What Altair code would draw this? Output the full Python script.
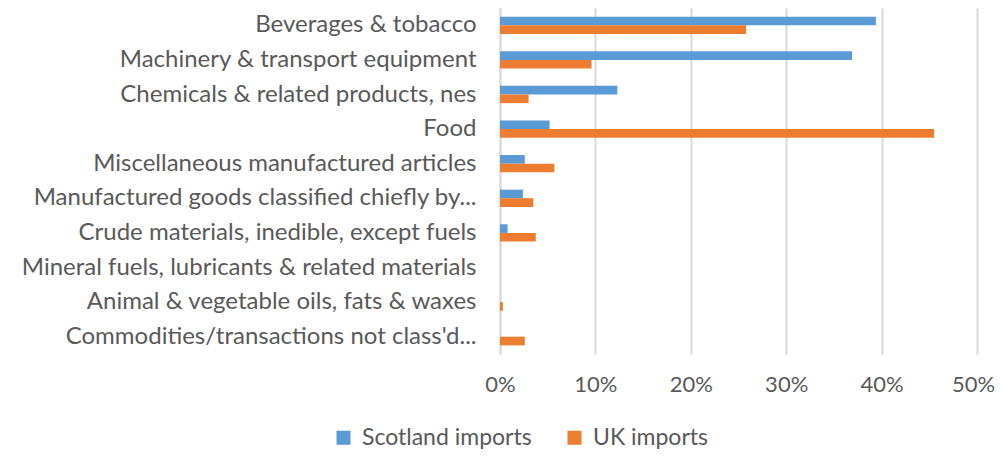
import altair as alt
import pandas as pd

categories = [
    "Beverages & tobacco",
    "Machinery & transport equipment",
    "Chemicals & related products, nes",
    "Food",
    "Miscellaneous manufactured articles",
    "Manufactured goods classified chiefly by...",
    "Crude materials, inedible, except fuels",
    "Mineral fuels, lubricants & related materials",
    "Animal & vegetable oils, fats & waxes",
    "Commodities/transactions not class'd...",
]
scotland = [0.394, 0.369, 0.123, 0.052, 0.026, 0.024, 0.008, 0.0, 0.0, 0.0]
uk = [0.258, 0.096, 0.030, 0.455, 0.057, 0.035, 0.0375, 0.0, 0.003, 0.026]
series = ["Scotland imports", "UK imports"]
colors = ["#5B9BD5", "#ED7D31"]
x_ticks = [0, 0.1, 0.2, 0.3, 0.4, 0.5]

rows = []
for c, s, u in zip(categories, scotland, uk):
    rows.append({"category": c, "series": series[0], "value": s})
    rows.append({"category": c, "series": series[1], "value": u})
df = pd.DataFrame(rows)

FONT = "Lato"
GRAY = "#595959"
FS = 24

chart = alt.Chart(df).mark_bar().encode(
    x=alt.X("value:Q",
            scale=alt.Scale(domain=[0, 0.5], nice=False, zero=True),
            axis=alt.Axis(values=x_ticks, format=".0%", title=None, grid=True,
                          gridColor="#d9d9d9", gridWidth=2, domain=False, ticks=False,
                          labelFont=FONT, labelFontSize=22, labelColor=GRAY,
                          labelPadding=20, labelFlush=False,
                          labelOffset={"condition": {"test": "datum.value >= 0.5", "value": -4},
                                       "value": 0})),
    y=alt.Y("category:N", sort=categories,
            scale=alt.Scale(paddingInner=0.5, paddingOuter=0.25),
            axis=alt.Axis(title=None, ticks=False, domain=True, domainColor="#d9d9d9",
                          domainWidth=2, labelFont=FONT, labelFontSize=FS,
                          labelColor=GRAY, labelPadding=24, labelLimit=0)),
    yOffset=alt.YOffset("series:N", sort=series),
    color=alt.Color("series:N", sort=series,
                    scale=alt.Scale(domain=series, range=colors),
                    legend=alt.Legend(title=None, orient="none", direction="horizontal",
                                      legendX=-168, legendY=418,
                                      symbolType="square", symbolSize=196,
                                      labelFont=FONT, labelFontSize=23, labelColor=GRAY,
                                      labelOffset=7, columnPadding=31, labelLimit=0,
                                      symbolStrokeWidth=0)),
).properties(
    width=477,
    height=346,
    autosize=alt.AutoSizeParams(type="none"),
    padding={"left": 492, "top": 0, "right": 18, "bottom": 96},
).configure(background="white").configure_view(stroke=None)

chart.save("out.html", embed_options={"renderer": "svg", "actions": False})
